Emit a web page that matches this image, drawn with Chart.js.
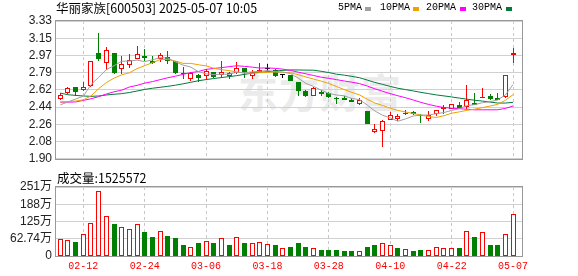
<!DOCTYPE html>
<html lang="zh">
<head>
  <meta charset="UTF-8">
  <title>华丽家族 日K</title>
  <script src="https://cdn.jsdelivr.net/npm/chart.js"></script>
  <style>
    body { margin: 0; background: #fff; }
    #wrap { position: relative; width: 578px; height: 276px; overflow: hidden; font-family: "Noto Sans CJK SC", sans-serif; }
    #wrap canvas { position: absolute; left: 0; }
    #kline { top: 0; }
    #vol { top: 172px; }
    .txt { position: absolute; white-space: nowrap; color: #000; }
    #title { left: 56px; top: 0; font-size: 12.5px; line-height: 16px; }
    #volTitle { left: 57px; top: 170px; font-size: 12.5px; line-height: 16px; }
    .lg { position: absolute; top: 2px; font: 10px "Liberation Mono", monospace; line-height: 12px; }
    .sw { position: absolute; top: 7px; width: 6px; height: 4px; }
    /* faint watermark behind the plot */
    #mark { left: 238px; top: 62px; font-size: 40px; font-weight: bold; color: #ebebeb; letter-spacing: 1px; }
  </style>
</head>
<body>
<div id="wrap">
  <div class="txt" id="mark">东方财富</div>
  <canvas id="kline" width="578" height="170"></canvas>
  <canvas id="vol" width="578" height="104"></canvas>
  <div class="txt" id="title">华丽家族[600503] 2025-05-07 10:05</div>
  <span class="lg" style="left:338px">5PMA</span><span class="sw" style="left:365px;background:#a0a0a0"></span>
  <span class="lg" style="left:380px">10PMA</span><span class="sw" style="left:413px;background:#f0a000"></span>
  <span class="lg" style="left:426px">20PMA</span><span class="sw" style="left:460px;background:#ff00ff"></span>
  <span class="lg" style="left:472px">30PMA</span><span class="sw" style="left:506px;background:#007a3d"></span>
  <div class="txt" id="volTitle">成交量:1525572</div>
</div>

<script>
// trading days shown (60)
const dates = ['02-07','02-10','02-11','02-12','02-13','02-14','02-17','02-18','02-19','02-20',
  '02-21','02-24','02-25','02-26','02-27','02-28','03-03','03-04','03-05','03-06',
  '03-07','03-10','03-11','03-12','03-13','03-14','03-17','03-18','03-19','03-20',
  '03-21','03-24','03-25','03-26','03-27','03-28','03-31','04-01','04-02','04-03',
  '04-07','04-08','04-09','04-10','04-11','04-14','04-15','04-16','04-17','04-18',
  '04-21','04-22','04-23','04-24','04-25','04-28','04-29','04-30','05-06','05-07'];

const opens = [2.52,2.58,2.65,2.61,2.66,3.00,2.89,3.00,2.83,2.87,
  2.94,2.97,2.92,2.94,2.96,2.92,2.79,2.73,2.77,2.76,
  2.80,2.77,2.76,2.79,2.84,2.76,2.80,2.83,2.82,2.77,
  2.77,2.70,2.60,2.55,2.59,2.58,2.53,2.53,2.51,2.47,
  2.40,2.18,2.19,2.30,2.31,2.36,2.39,2.35,2.31,2.36,
  2.42,2.42,2.46,2.44,2.48,2.53,2.55,2.53,2.54,2.98];
const highs = [2.58,2.64,2.65,2.70,2.92,3.21,3.06,3.00,2.97,2.99,
  3.07,3.04,2.97,3.00,3.02,2.92,2.85,2.80,2.78,2.83,
  2.80,2.91,2.80,2.90,2.84,2.82,2.89,2.88,2.83,2.78,
  2.77,2.70,2.61,2.64,2.61,2.59,2.54,2.55,2.53,2.53,
  2.40,2.26,2.30,2.39,2.36,2.41,2.40,2.37,2.40,2.41,
  2.46,2.47,2.49,2.67,2.58,2.63,2.57,2.58,2.77,3.05];
const lows = [2.51,2.57,2.55,2.60,2.64,2.91,2.82,2.78,2.78,2.84,
  2.94,2.92,2.88,2.90,2.88,2.78,2.73,2.71,2.70,2.72,
  2.74,2.74,2.73,2.78,2.74,2.73,2.80,2.81,2.75,2.74,
  2.71,2.55,2.54,2.55,2.55,2.53,2.47,2.51,2.49,2.46,
  2.26,2.17,2.02,2.30,2.29,2.35,2.35,2.27,2.29,2.34,
  2.37,2.42,2.43,2.42,2.46,2.53,2.51,2.51,2.53,2.89];
const closes = [2.56,2.63,2.59,2.65,2.92,2.94,3.03,2.79,2.88,2.93,
  2.99,2.95,2.89,2.98,2.92,2.79,2.78,2.79,2.74,2.81,
  2.75,2.80,2.79,2.84,2.79,2.80,2.82,2.83,2.76,2.77,
  2.71,2.60,2.55,2.63,2.57,2.54,2.52,2.51,2.49,2.51,
  2.26,2.21,2.29,2.35,2.34,2.38,2.36,2.34,2.35,2.41,
  2.44,2.47,2.43,2.51,2.46,2.54,2.52,2.51,2.77,3.00];

const ma5 = [2.46,2.49,2.52,2.55,2.67,2.746,2.826,2.866,2.912,2.914,
  2.924,2.908,2.928,2.948,2.946,2.906,2.872,2.852,2.804,2.782,
  2.774,2.778,2.778,2.798,2.794,2.802,2.808,2.816,2.804,2.80,
  2.784,2.738,2.682,2.652,2.612,2.578,2.562,2.554,2.526,2.514,
  2.458,2.396,2.352,2.324,2.29,2.314,2.344,2.354,2.354,2.368,
  2.38,2.402,2.42,2.452,2.462,2.482,2.492,2.51,2.562,2.67];
const ma10 = [2.49,2.493,2.499,2.512,2.552,2.628,2.691,2.737,2.771,2.792,
  2.835,2.867,2.897,2.930,2.930,2.915,2.890,2.890,2.876,2.864,
  2.840,2.825,2.815,2.801,2.788,2.788,2.793,2.797,2.801,2.797,
  2.793,2.773,2.749,2.728,2.706,2.681,2.650,2.618,2.589,2.563,
  2.518,2.479,2.453,2.425,2.402,2.386,2.370,2.353,2.339,2.329,
  2.347,2.373,2.387,2.403,2.415,2.431,2.447,2.465,2.507,2.566];
const ma20 = [2.488,2.488,2.49,2.506,2.523,2.545,2.572,2.595,2.612,2.645,
  2.662,2.685,2.701,2.721,2.741,2.757,2.777,2.794,2.806,2.828,
  2.8375,2.846,2.856,2.8655,2.859,2.8515,2.8415,2.8435,2.8385,2.8305,
  2.8165,2.799,2.782,2.7645,2.747,2.7345,2.7215,2.7075,2.695,2.68,
  2.6555,2.626,2.601,2.5765,2.554,2.5335,2.51,2.4855,2.464,2.446,
  2.4325,2.426,2.42,2.414,2.4085,2.4085,2.4085,2.409,2.423,2.4475];
const ma30 = [2.582,2.565,2.558,2.552,2.548,2.552,2.562,2.570,2.576,2.588,
  2.603,2.62,2.632,2.642,2.652,2.664,2.678,2.694,2.71,2.722,
  2.733,2.743,2.753,2.763,2.776,2.789,2.797,2.804,2.81,2.8177,
  2.8227,2.8217,2.8203,2.8197,2.808,2.7947,2.7777,2.7683,2.7553,2.7413,
  2.717,2.6923,2.6723,2.6513,2.632,2.6183,2.6043,2.5893,2.5763,2.563,
  2.5527,2.5417,2.5297,2.5187,2.5077,2.4993,2.489,2.4787,2.4783,2.486];

// volume in 万股
const volumes = [63.6,60,52.7,78.2,121.8,234.6,147.3,114.6,103.7,100,
  118.2,85.5,68.4,92.7,72,64.7,41.8,34.5,45.5,55.2,
  45.5,66.1,41.8,70.9,49.1,49.1,51.6,44.4,41.8,27.3,
  34.5,45.5,32,27.3,23.6,23.6,23.6,20,16.4,18.9,
  34.5,38.2,48,38.2,27.3,26.2,20,23.6,22.5,34.5,
  27.3,27.3,27.3,92.7,70.9,85.5,41.8,38.2,78.2,152.5572];

const dateTicks = ['02-12','02-24','03-06','03-18','03-28','04-10','04-22','05-07'];
const priceTicks = [1.90,2.07875,2.2575,2.43625,2.615,2.79375,2.9725,3.15125,3.33];
const priceTickLabels = ['1.90','2.08','2.26','2.44','2.62','2.79','2.97','3.15','3.33'];
const volTicks = [0,62.74,125.48,188.22,250.96];
const volTickLabels = ['0','62.74万','125万','188万','251万'];

const RED = '#ff0000', GREEN = '#008000', BLACK = '#000000';
const tickIdx = dateTicks.map(d => dates.indexOf(d));

// candle colour: close vs open; volume colour: close vs previous close
const candleColors = closes.map((c, i) => c > opens[i] ? RED : (c < opens[i] ? GREEN : BLACK));
const bodyFill = candleColors.map(c => c === RED ? '#ffffff' : c);
const volColors = closes.map((c, i) => c >= (i ? closes[i - 1] : opens[i]) ? RED : GREEN);

Chart.defaults.font.family = '"Liberation Sans", "Noto Sans CJK SC", sans-serif';
Chart.defaults.font.size = 12;
Chart.defaults.color = '#222';

const frame = {
  id: 'frame',
  beforeDatasetsDraw(chart) {
    const { ctx, chartArea: a } = chart;
    ctx.save();
    ctx.strokeStyle = '#999';
    ctx.lineWidth = 1;
    const l = Math.round(a.left) - 0.5, t = Math.round(a.top) - 0.5;
    ctx.strokeRect(l, t, Math.round(a.right) - Math.round(a.left) + 1, Math.round(a.bottom) - Math.round(a.top) + 1);
    ctx.restore();
  }
};

// snap bar elements to whole pixels so thin borders and wicks stay crisp
const snapBars = {
  id: 'snapBars',
  beforeDatasetsDraw(chart) {
    chart.data.datasets.forEach((ds, di) => {
      const meta = chart.getDatasetMeta(di);
      if (meta.type !== 'bar') return;
      meta.data.forEach(el => {
        el.x = Math.floor(el.x) + 0.5;
        let y = Math.round(el.y), b = Math.round(el.base);
        if (y === b) y = b - 1;
        el.y = y; el.base = b;
      });
    });
  }
};

function xAxis(showLabels) {
  return {
    type: 'linear', min: -0.56, max: 60.17, offset: false,
    afterBuildTicks: s => { s.ticks = tickIdx.map(v => ({ value: v })); },
    ticks: {
      display: showLabels, autoSkip: false, maxRotation: 0, padding: 4, color: RED,
      font: { family: '"Liberation Mono", monospace', size: 10 },
      callback: v => dates[v]
    },
    grid: { color: '#c8c8c8', drawTicks: false, offset: false },
    border: { display: false, dash: [3, 3] },
    afterFit: s => { s.height = showLabels ? 20 : 0; }
  };
}

function yAxis(min, max, ticks, labels) {
  return {
    min: min, max: max,
    afterBuildTicks: s => { s.ticks = ticks.map(v => ({ value: v })); },
    ticks: { padding: 4, autoSkip: false, callback: (v, i) => labels[i] },
    grid: { color: '#d0d0d0', drawTicks: false },
    border: { display: false },
    afterFit: s => { s.width = 56; }
  };
}

function maLine(values, color) {
  return {
    type: 'line', data: values.map((v, i) => ({ x: i, y: v })),
    borderColor: color, borderWidth: 1, pointRadius: 0, tension: 0, order: 0
  };
}

new Chart(document.getElementById('kline'), {
  type: 'bar',
  data: {
    datasets: [
      maLine(ma5, '#a0a0a0'),
      maLine(ma10, '#f0a000'),
      maLine(ma20, '#ff00ff'),
      maLine(ma30, '#007a3d'),
      {
        data: dates.map((d, i) => ({ x: i, y: [opens[i], closes[i]] })),
        backgroundColor: bodyFill, borderColor: candleColors, borderWidth: 1,
        borderSkipped: false, barThickness: 5, grouped: false, minBarLength: 1,
        inflateAmount: 0, order: 1
      },
      {
        data: dates.map((d, i) => ({ x: i, y: [lows[i], highs[i]] })),
        backgroundColor: candleColors, borderWidth: 0, barThickness: 1,
        grouped: false, inflateAmount: 0, order: 2
      }
    ]
  },
  options: {
    responsive: false, animation: false, devicePixelRatio: 1,
    layout: { padding: { left: 0, right: 56, top: 21, bottom: 5 } },
    plugins: { legend: { display: false }, tooltip: { enabled: false } },
    scales: {
      x: xAxis(false),
      y: yAxis(1.90, 3.33, priceTicks, priceTickLabels)
    }
  },
  plugins: [frame, snapBars]
});

new Chart(document.getElementById('vol'), {
  type: 'bar',
  data: {
    datasets: [{
      data: dates.map((d, i) => ({ x: i, y: volumes[i] })),
      backgroundColor: volColors.map(c => c === RED ? '#ffffff' : c),
      borderColor: volColors, borderWidth: 1, borderSkipped: false,
      barThickness: 5, grouped: false, inflateAmount: 0
    }]
  },
  options: {
    responsive: false, animation: false, devicePixelRatio: 1,
    layout: { padding: { left: 0, right: 56, top: 15, bottom: 0 } },
    plugins: { legend: { display: false }, tooltip: { enabled: false } },
    scales: {
      x: xAxis(true),
      y: yAxis(0, 250.96, volTicks, volTickLabels)
    }
  },
  plugins: [frame, snapBars]
});
</script>
</body>
</html>
